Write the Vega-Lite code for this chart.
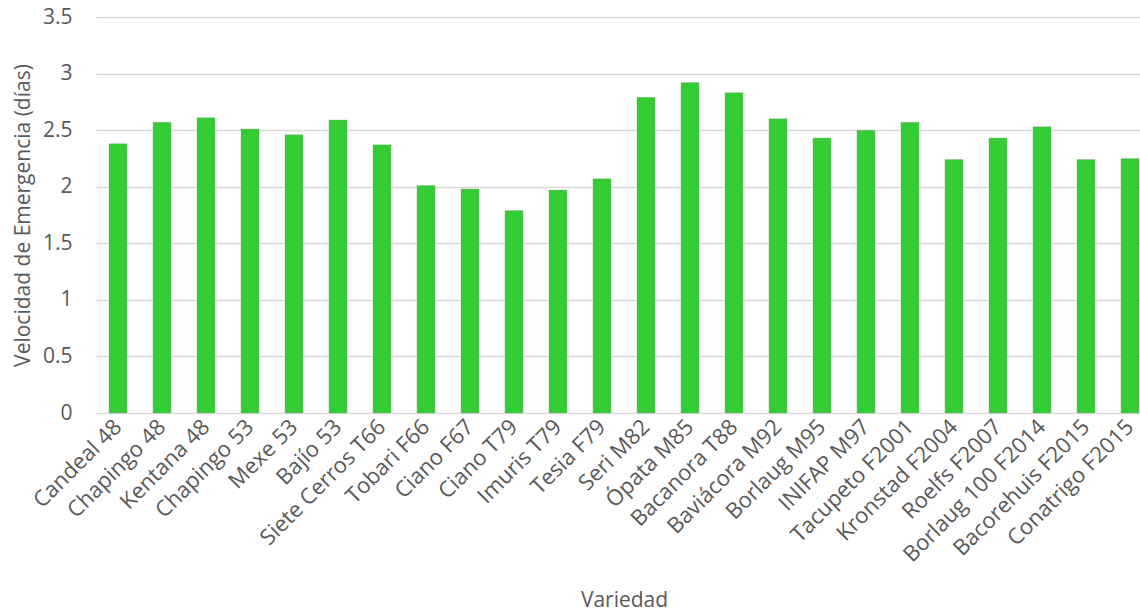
{
  "$schema": "https://vega.github.io/schema/vega-lite/v6.json",
  "autosize": {"type": "none"},
  "padding": {"left": 96, "top": 17, "right": 0, "bottom": 200},
  "width": 1044,
  "height": 396,
  "background": "white",
  "config": {
    "view": {"stroke": null},
    "font": "Open Sans",
    "axis": {"labelFont": "Open Sans", "titleFont": "Open Sans", "labelColor": "#595959", "titleColor": "#595959", "titleFontWeight": "normal"}
  },
  "data": {
    "values": [
      {"variedad": "Candeal 48", "velocidad": 2.38},
      {"variedad": "Chapingo 48", "velocidad": 2.57},
      {"variedad": "Kentana 48", "velocidad": 2.61},
      {"variedad": "Chapingo 53", "velocidad": 2.51},
      {"variedad": "Mexe 53", "velocidad": 2.46},
      {"variedad": "Bajío 53", "velocidad": 2.59},
      {"variedad": "Siete Cerros T66", "velocidad": 2.37},
      {"variedad": "Tobari F66", "velocidad": 2.01},
      {"variedad": "Ciano F67", "velocidad": 1.98},
      {"variedad": "Ciano T79", "velocidad": 1.79},
      {"variedad": "Imuris T79", "velocidad": 1.97},
      {"variedad": "Tesia F79", "velocidad": 2.07},
      {"variedad": "Seri M82", "velocidad": 2.79},
      {"variedad": "Ópata M85", "velocidad": 2.92},
      {"variedad": "Bacanora T88", "velocidad": 2.83},
      {"variedad": "Baviácora M92", "velocidad": 2.6},
      {"variedad": "Borlaug M95", "velocidad": 2.43},
      {"variedad": "INIFAP M97", "velocidad": 2.5},
      {"variedad": "Tacupeto F2001", "velocidad": 2.57},
      {"variedad": "Kronstad F2004", "velocidad": 2.24},
      {"variedad": "Roelfs F2007", "velocidad": 2.43},
      {"variedad": "Borlaug 100 F2014", "velocidad": 2.53},
      {"variedad": "Bacorehuis F2015", "velocidad": 2.24},
      {"variedad": "Conatrigo F2015", "velocidad": 2.25}
    ]
  },
  "mark": {"type": "bar", "color": "#33CC33", "stroke": "#9a9a9a", "strokeOpacity": 0.35, "strokeWidth": 1},
  "encoding": {
    "x": {
      "field": "variedad",
      "type": "nominal",
      "sort": null,
      "title": "Variedad",
      "scale": {"range": [0, 1056], "paddingInner": 0.59, "paddingOuter": 0.295},
      "axis": {
        "labelAngle": -45,
        "labelAlign": "right",
        "labelBaseline": "middle",
        "labelFontSize": 22,
        "labelLimit": 0,
        "labelPadding": 10,
        "ticks": false,
        "domain": false,
        "titleFontSize": 21,
        "titlePadding": 24
      }
    },
    "y": {
      "field": "velocidad",
      "type": "quantitative",
      "title": "Velocidad de Emergencia (días)",
      "scale": {"domain": [0, 3.5], "nice": false},
      "axis": {
        "values": [0, 0.5, 1, 1.5, 2, 2.5, 3, 3.5],
        "format": "~g",
        "grid": true,
        "gridColor": "#d9d9d9",
        "gridWidth": 1.3,
        "ticks": false,
        "domain": false,
        "labelFontSize": 21,
        "labelPadding": 24,
        "titleFontSize": 21,
        "titlePadding": 9
      }
    }
  }
}
